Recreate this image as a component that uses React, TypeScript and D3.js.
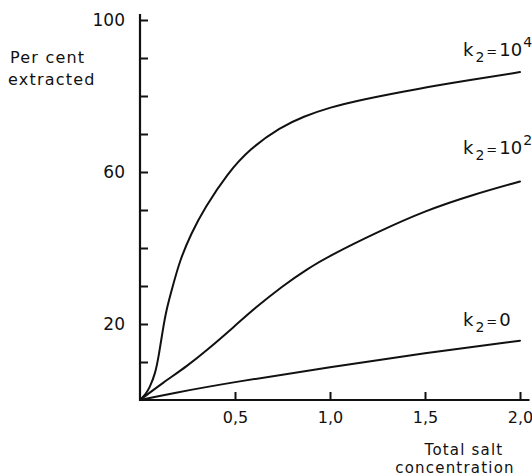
import { useEffect, useRef } from "react";
import * as d3 from "d3";

// k2 = 10^4 curve
const k4Conc = [0, 0.03, 0.05, 0.08, 0.1, 0.12, 0.14, 0.17, 0.21, 0.27, 0.34, 0.46, 0.58, 0.74, 0.86, 1.0, 1.16, 1.47, 1.74, 2.0];
const k4Pct = [0, 1.5, 3.2, 6.8, 12, 18.5, 24, 29.5, 36.8, 43.9, 50.5, 59.6, 66.2, 71.8, 74.6, 77.0, 79.0, 82, 84.2, 86.3];

// k2 = 10^2 curve
const k2Conc = [0, 0.12, 0.25, 0.35, 0.5, 0.6, 0.75, 0.88, 1.0, 1.25, 1.5, 1.75, 2.0];
const k2Pct = [0, 4.5, 9, 13, 19.5, 24, 30, 34.5, 38, 44.2, 49.8, 54, 57.5];

// k2 = 0 curve
const k0Conc = [0, 0.15, 0.5, 1.0, 1.5, 2.0];
const k0Pct = [0, 1.6, 4.8, 8.6, 12.4, 15.6];

const xTicks = [0.5, 1.0, 1.5, 2.0];
const yTicks = [10, 20, 30, 40, 50, 60, 70, 80, 90, 100];
const yLabelled = [20, 60, 100];

const FONT = "'DejaVu Sans', sans-serif";

export default function App() {
  const svgRef = useRef<SVGSVGElement>(null);

  useEffect(() => {
    if (!svgRef.current) return;
    const width = 532;
    const height = 476;

    const svg = d3.select(svgRef.current);
    svg.selectAll("*").remove();

    const x = d3.scaleLinear().domain([0, 2]).range([140, 520]);
    const y = d3.scaleLinear().domain([0, 100]).range([400, 20]);

    // ── Axes ──────────────────────────────────────────────────────────────
    const yAxis = svg
      .append("g")
      .attr("transform", `translate(${x(0)},0)`)
      .call(
        d3
          .axisLeft(y)
          .tickValues(yTicks)
          .tickSizeInner(-8)
          .tickSizeOuter(0)
          .tickPadding(15)
          .tickFormat((d) => (yLabelled.includes(d as number) ? String(d) : ""))
      );
    yAxis.select(".domain").remove();
    yAxis.selectAll(".tick line").attr("stroke", "#111").attr("stroke-width", 2);
    yAxis
      .selectAll(".tick text")
      .attr("fill", "#111")
      .attr("font-family", FONT)
      .attr("font-size", 17);

    const xAxis = svg
      .append("g")
      .attr("transform", `translate(0,${y(0)})`)
      .call(
        d3
          .axisBottom(x)
          .tickValues(xTicks)
          .tickSizeInner(-8)
          .tickSizeOuter(0)
          .tickPadding(12)
          .tickFormat((d) => d3.format(".1f")(d as number).replace(".", ","))
      );
    xAxis.select(".domain").remove();
    xAxis.selectAll(".tick line").attr("stroke", "#111").attr("stroke-width", 2);
    xAxis
      .selectAll(".tick text")
      .attr("fill", "#111")
      .attr("font-family", FONT)
      .attr("font-size", 16);

    // axis lines
    svg
      .append("line")
      .attr("x1", x(0))
      .attr("x2", x(0))
      .attr("y1", y(0) + 1)
      .attr("y2", y(101.6))
      .attr("stroke", "#111")
      .attr("stroke-width", 2.2);
    svg
      .append("line")
      .attr("x1", x(0) - 1)
      .attr("x2", x(2.05))
      .attr("y1", y(0))
      .attr("y2", y(0))
      .attr("stroke", "#111")
      .attr("stroke-width", 2.2);

    // ── Axis titles ───────────────────────────────────────────────────────
    const yTitle = svg
      .append("text")
      .attr("font-family", FONT)
      .attr("font-size", 16)
      .attr("letter-spacing", 1.2)
      .attr("fill", "#111");
    yTitle.append("tspan").attr("x", 10).attr("y", 63).text("Per cent");
    yTitle.append("tspan").attr("x", 8).attr("y", 85).text("extracted");

    const xTitle = svg
      .append("text")
      .attr("font-family", FONT)
      .attr("font-size", 15)
      .attr("letter-spacing", 1.2)
      .attr("text-anchor", "middle")
      .attr("fill", "#111");
    xTitle.append("tspan").attr("x", 464).attr("y", 455).text("Total salt");
    xTitle.append("tspan").attr("x", 455).attr("y", 473).text("concentration");

    // ── Curves ────────────────────────────────────────────────────────────
    const line = d3
      .line<[number, number]>()
      .x((d) => x(d[0]))
      .y((d) => y(d[1]))
      .curve(d3.curveBasis);

    const series = [
      { xs: k4Conc, ys: k4Pct },
      { xs: k2Conc, ys: k2Pct },
      { xs: k0Conc, ys: k0Pct },
    ];
    series.forEach((s) => {
      svg
        .append("path")
        .datum(s.xs.map((xv, i) => [xv, s.ys[i]] as [number, number]))
        .attr("fill", "none")
        .attr("stroke", "#111")
        .attr("stroke-width", 2)
        .attr("stroke-linecap", "round")
        .attr("d", line);
    });

    // ── Curve labels ──────────────────────────────────────────────────────
    function label(cx: number, cy: number, exp: string | null, tail: string) {
      const t = svg
        .append("text")
        .attr("x", x(cx))
        .attr("y", y(cy))
        .attr("font-family", FONT)
        .attr("font-size", 18)
        .attr("fill", "#111");
      t.append("tspan").text("k");
      t.append("tspan").attr("font-size", 14).attr("dx", 2).attr("dy", 6).text("2");
      t.append("tspan").attr("font-size", 13).attr("dx", 2).attr("dy", -6).text("=");
      t.append("tspan").attr("dx", 2).text(tail);
      if (exp) t.append("tspan").attr("font-size", 14).attr("dx", 1).attr("dy", -9).text(exp);
    }
    label(1.7, 90.5, "4", "10");
    label(1.7, 64.8, "2", "10");
    label(1.7, 19.5, null, "0");

    svg.attr("width", width).attr("height", height);
  }, []);

  return (
    <svg
      ref={svgRef}
      width={532}
      height={476}
      style={{ position: "absolute", left: 0, top: 0, background: "#fff" }}
    />
  );
}
